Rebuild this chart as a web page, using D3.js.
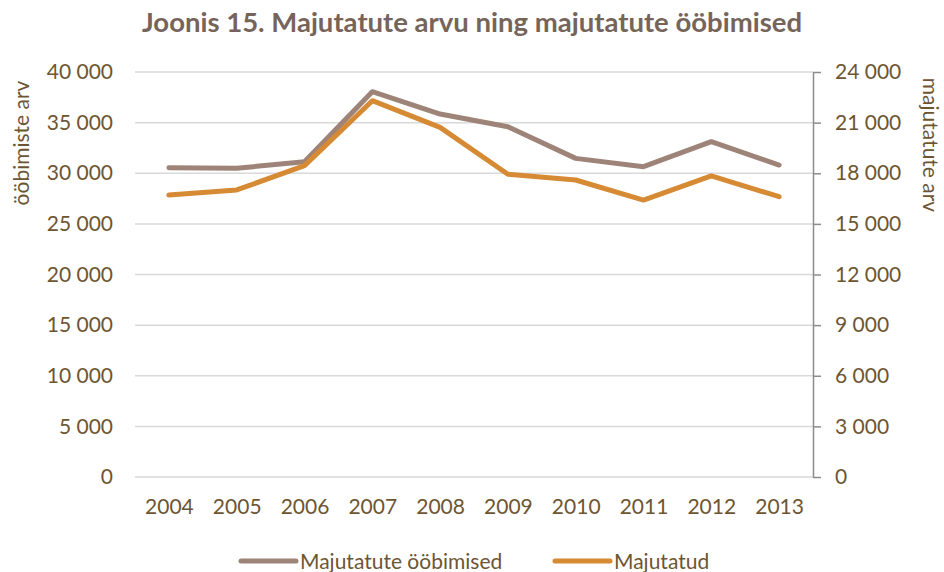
<!DOCTYPE html>
<html>
<head>
<meta charset="utf-8">
<script src="https://cdn.jsdelivr.net/npm/d3@7"></script>
<style>
  body { margin: 0; background: #fff; }
  text { font-family: Lato, 'Open Sans', sans-serif; }
</style>
</head>
<body>
<div id="chart"></div>
<script>
const years = ['2004', '2005', '2006', '2007', '2008', '2009', '2010', '2011', '2012', '2013']
// Majutatute ööbimised (left axis)
const stays = [30550, 30490, 31140, 38050, 35850, 34600, 31470, 30650, 33120, 30810]
// Majutatud (right axis)
const guests = [16710, 17010, 18450, 22300, 20720, 17940, 17600, 16410, 17840, 16610]
const leftTicks = [0, 5000, 10000, 15000, 20000, 25000, 30000, 35000, 40000]
const rightTicks = [0, 3000, 6000, 9000, 12000, 15000, 18000, 21000, 24000]

const W = 944
const H = 572
const plot = { left: 135, right: 813, top: 72, bottom: 477 }
const textColor = '#6e5532'
const grayLine = '#9e8478'
const orangeLine = '#d68a34'

const svg = d3.select('#chart').append('svg')
  .attr('width', W)
  .attr('height', H)

const x = d3.scalePoint().domain(years).range([plot.left, plot.right]).padding(0.5)
const yLeft = d3.scaleLinear().domain([0, 40000]).range([plot.bottom, plot.top])
const yRight = d3.scaleLinear().domain([0, 24000]).range([plot.bottom, plot.top])

const fmt = d => d3.format(',')(d).replace(/,/g, ' ')

// gridlines
svg.append('g')
  .selectAll('line')
  .data(leftTicks)
  .join('line')
  .attr('x1', plot.left)
  .attr('x2', plot.right)
  .attr('y1', d => yLeft(d))
  .attr('y2', d => yLeft(d))
  .attr('stroke', '#d9d9d9')
  .attr('stroke-width', 1.5)

// left axis labels
const leftAxis = svg.append('g')
  .attr('transform', 'translate(' + plot.left + ',0)')
  .call(d3.axisLeft(yLeft).tickValues(leftTicks).tickFormat(fmt).tickSize(0).tickPadding(22))
leftAxis.select('.domain').remove()
leftAxis.selectAll('text')
  .attr('fill', textColor)
  .attr('font-size', 21)
  .attr('font-family', 'Lato')

// right axis
const rightAxis = svg.append('g')
  .attr('transform', 'translate(' + plot.right + ',0)')
  .call(d3.axisRight(yRight).tickValues(rightTicks).tickFormat(fmt).tickSizeInner(8).tickSizeOuter(0).tickPadding(14))
rightAxis.select('.domain').attr('stroke', '#8c8c8c').attr('stroke-width', 1.5)
rightAxis.selectAll('line').attr('stroke', '#8c8c8c').attr('stroke-width', 1.5)
rightAxis.selectAll('text')
  .attr('fill', textColor)
  .attr('font-size', 21)
  .attr('font-family', 'Lato')

// x axis labels
const xAxis = svg.append('g')
  .attr('transform', 'translate(0,' + plot.bottom + ')')
  .call(d3.axisBottom(x).tickSize(0).tickPadding(22))
xAxis.select('.domain').remove()
xAxis.selectAll('text')
  .attr('fill', textColor)
  .attr('font-size', 21)
  .attr('font-family', 'Lato')

// lines
const lineLeft = d3.line().x((d, i) => x(years[i])).y(d => yLeft(d))
const lineRight = d3.line().x((d, i) => x(years[i])).y(d => yRight(d))

svg.append('path')
  .datum(stays)
  .attr('d', lineLeft)
  .attr('fill', 'none')
  .attr('stroke', grayLine)
  .attr('stroke-width', 5)
  .attr('stroke-linecap', 'round')
  .attr('stroke-linejoin', 'round')

svg.append('path')
  .datum(guests)
  .attr('d', lineRight)
  .attr('fill', 'none')
  .attr('stroke', orangeLine)
  .attr('stroke-width', 5)
  .attr('stroke-linecap', 'round')
  .attr('stroke-linejoin', 'round')

// title
svg.append('text')
  .attr('x', 472)
  .attr('y', 32)
  .attr('text-anchor', 'middle')
  .attr('font-size', 27.5)
  .attr('font-weight', 700)
  .attr('fill', '#76645a')
  .text('Joonis 15. Majutatute arvu ning majutatute ööbimised')

// axis titles
svg.append('text')
  .attr('transform', 'translate(20,' + 143 + ') rotate(-90)')
  .attr('text-anchor', 'middle')
  .attr('dominant-baseline', 'central')
  .attr('font-size', 21)
  .attr('fill', textColor)
  .text('ööbimiste arv')

svg.append('text')
  .attr('transform', 'translate(931,' + 145 + ') rotate(90)')
  .attr('text-anchor', 'middle')
  .attr('dominant-baseline', 'central')
  .attr('font-size', 21)
  .attr('fill', textColor)
  .text('majutatute arv')

// legend
const legendItems = [
  { name: 'Majutatute ööbimised', color: grayLine, x: 241 },
  { name: 'Majutatud', color: orangeLine, x: 555 }
]
const legend = svg.append('g')
legendItems.forEach(d => {
  legend.append('line')
    .attr('x1', d.x)
    .attr('x2', d.x + 55)
    .attr('y1', 561)
    .attr('y2', 561)
    .attr('stroke', d.color)
    .attr('stroke-width', 5)
    .attr('stroke-linecap', 'round')
  legend.append('text')
    .attr('x', d.x + 59)
    .attr('y', 569)
    .attr('font-size', 21)
    .attr('fill', textColor)
    .text(d.name)
})
</script>
</body>
</html>
